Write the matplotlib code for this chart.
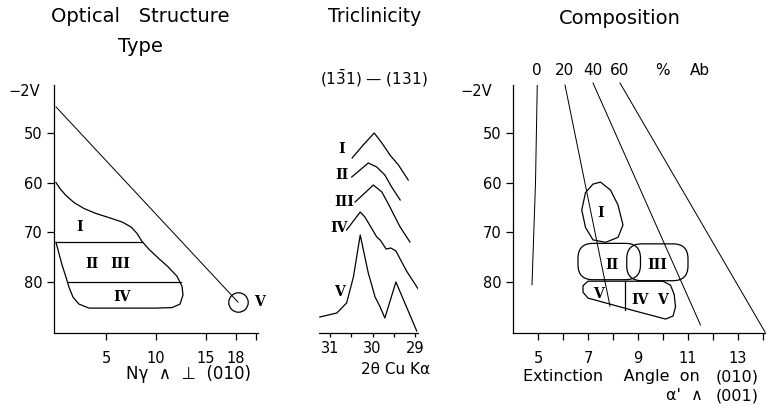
import numpy as np
import matplotlib.pyplot as plt
from matplotlib.patches import FancyBboxPatch, Polygon

plt.rcParams['font.family'] = ['DejaVu Sans']
plt.rcParams['axes.linewidth'] = 0.9

# ---- panel 1: optical structure type (Nγ ∧ ⊥(010) vs -2V) ----
opt_outline_x = [0, 0.4, 1.0, 1.8, 2.8, 4.0, 5.4, 6.6, 7.5, 8.1, 8.6, 9.3, 10.2, 11.2, 12.1, 12.6,
                 12.7, 12.4, 11.6, 10.0, 3.3, 2.3, 1.7, 1.3, 1.0, 0.6, 0.2, 0]
opt_outline_y = [60, 61.2, 62.6, 64.0, 65.2, 66.2, 67.1, 67.9, 68.9, 70.2, 71.8, 73.4, 75.1, 76.9, 78.8, 80.8,
                 82.6, 84.4, 85.1, 85.2, 85.2, 84.4, 83.0, 81.0, 79.0, 76.5, 73.5, 72]
opt_split_y = [72, 80]
opt_split_x0 = [0, 1.15]
opt_split_x1 = [8.6, 12.5]
opt_diag_x = [0, 18.2]
opt_diag_y = [44.8, 84]
opt_types = ['I', 'II', 'III', 'IV', 'V']
opt_type_x = [2.4, 3.6, 6.4, 6.6, 20.3]
opt_type_y = [69, 76.3, 76.3, 83, 84]

# ---- panel 2: triclinicity, (1-31)-(131) peaks ----
tri_x = {
    'I':   [30.48, 30.22, 29.96, 29.78, 29.59, 29.39, 29.16],
    'II':  [30.49, 30.10, 29.90, 29.71, 29.55, 29.35],
    'III': [30.41, 29.98, 29.78, 29.59, 29.52, 29.35, 29.12],
    'IV':  [30.61, 30.29, 30.18, 29.90, 29.82, 29.68, 29.57, 29.45, 29.20, 28.88],
    'V':   [31.24, 30.84, 30.61, 30.45, 30.29, 30.10, 29.94, 29.82, 29.71, 29.45, 29.20, 28.96],
}
tri_y = {
    'I':   [175, 188, 200, 190, 178, 168, 153],
    'II':  [156, 170, 166, 158, 146, 133],
    'III': [131, 148, 141, 126, 120, 106, 91],
    'IV':  [103, 121, 116, 96, 93, 84, 85, 82, 62, 41],
    'V':   [16, 20, 30, 56, 98, 60, 36, 26, 15, 51, 26, 2],
}
tri_label_x = [30.73, 30.71, 30.67, 30.80, 30.78]
tri_label_y = [184, 158, 131, 105, 41]

# ---- panel 3: composition (extinction angle vs -2V) ----
ab_pct = ['0', '20', '40', '60']
ab_line_x = [[4.97, 4.9, 4.76], [6.08, 7.88], [7.2, 11.5], [8.28, 14.08]]
ab_line_y = [[40.5, 60, 80.5], [40.4, 84.8], [40, 88.6], [40, 90]]
comp_I_x = [7.5, 7.9, 8.2, 8.4, 8.2, 7.7, 7.2, 6.9, 6.75, 6.9, 7.2]
comp_I_y = [59.9, 61.5, 64.5, 68.5, 71, 72, 71.5, 69, 65.5, 62, 60.3]
comp_boxes = [(6.6, 72.2, 9.1, 79.5), (8.55, 72.3, 11.0, 79.7)]  # II, III
comp_low_x = [7.0, 10.0, 10.3, 10.45, 10.5, 10.4, 10.1, 8.9, 7.3, 7.0, 6.8, 6.8]
comp_low_y = [79.8, 79.8, 80.6, 82.5, 85, 86.8, 87.4, 85.8, 83.6, 83.2, 82.0, 80.7]
comp_div_x = [8.47, 8.47]
comp_div_y = [79.8, 85.6]
comp_types = ['I', 'II', 'III', 'V', 'IV', 'V']
comp_type_x = [7.52, 7.96, 9.76, 7.4, 9.08, 9.96]
comp_type_y = [66.2, 76.6, 76.6, 82.4, 83.6, 83.6]

W, H = 770, 409
fig = plt.figure(figsize=(7.7, 4.09), dpi=100)


def box(l, t, r, b):
    return [l / W, 1 - b / H, (r - l) / W, (b - t) / H]


def ftext(x, y, s, **kw):
    fig.text(x / W, 1 - y / H, s, ha='center', va='center', **kw)


roman = dict(family='DejaVu Serif', fontweight='bold', fontsize=10, ha='center', va='center')
lw = 0.9

ax1 = fig.add_axes(box(54, 85, 258, 333))
ax2 = fig.add_axes(box(319, 85, 418, 333))
ax3 = fig.add_axes(box(513, 85, 765, 333))
for ax in (ax1, ax2, ax3):
    ax.spines['top'].set_visible(False)
    ax.spines['right'].set_visible(False)
    ax.tick_params(which='both', direction='out', length=5, width=0.9, labelsize=10.5)
ax2.spines['left'].set_visible(False)
ax2.set_yticks([])

# panel 1
ax1.set_xlim(-0.2, 20.2)
ax1.set_ylim(90.2, 40.4)
ax1.set_yticks([50, 60, 70, 80])
ax1.set_xticks([5, 10, 15, 18])
ax1.set_xticks([20], minor=True)
ax1.tick_params(axis='x', pad=8)
ax1.tick_params(axis='y', pad=3)
ax1.plot(opt_outline_x, opt_outline_y, color='k', lw=lw)
for y, x0, x1 in zip(opt_split_y, opt_split_x0, opt_split_x1):
    ax1.plot([x0, x1], [y, y], color='k', lw=lw)
ax1.plot(opt_diag_x, opt_diag_y, color='k', lw=lw * 0.8)
ax1.plot(opt_diag_x[-1], opt_diag_y[-1], 'o', ms=14, mfc='none', mec='k', mew=lw, clip_on=False)
for t, x, y in zip(opt_types, opt_type_x, opt_type_y):
    ax1.text(x, y, t, clip_on=False, **roman)
ax1.text(-1.6, 41.8, '−2V', ha='right', va='center', fontsize=10.5)

# panel 2
ax2.set_xlim(31.26, 28.93)
ax2.set_ylim(0, 248)
ax2.set_xticks([31, 30, 29])
ax2.set_xticks([30.5, 29.5], minor=True)
ax2.tick_params(which='both', length=3, pad=3)
for (k, xs), lx, ly in zip(tri_x.items(), tri_label_x, tri_label_y):
    ax2.plot(xs, tri_y[k], color='k', lw=lw)
    ax2.text(lx, ly, k, clip_on=False, **roman)

# panel 3
ax3.set_xlim(4, 14.08)
ax3.set_ylim(90.2, 40.4)
ax3.set_yticks([50, 60, 70, 80])
ax3.set_xticks([5, 7, 9, 11, 13])
ax3.set_xticks([6, 8, 10, 12, 14], minor=True)
ax3.tick_params(axis='x', pad=8)
ax3.tick_params(axis='y', pad=3)
for xs, ys, p in zip(ab_line_x, ab_line_y, ab_pct):
    ax3.plot(xs, ys, color='k', lw=lw * 0.8, clip_on=False)
    ax3.text(xs[0], 37.4, p, ha='center', va='center', fontsize=11, clip_on=False)
ax3.text(9.96, 37.4, '%', ha='center', va='center', fontsize=11)
ax3.text(11.48, 37.4, 'Ab', ha='center', va='center', fontsize=11)
ax3.text(3.15, 41.8, '−2V', ha='right', va='center', fontsize=10.5)
ax3.add_patch(Polygon(np.column_stack([comp_I_x, comp_I_y]), closed=True, fill=False, lw=lw))
for x0, y0, x1, y1 in comp_boxes:
    ax3.add_patch(FancyBboxPatch((x0, y0), x1 - x0, y1 - y0,
                                 boxstyle='round,pad=0,rounding_size=0.6',
                                 mutation_aspect=5, fill=False, lw=lw))
ax3.add_patch(Polygon(np.column_stack([comp_low_x, comp_low_y]), closed=True, fill=False, lw=lw))
ax3.plot(comp_div_x, comp_div_y, color='k', lw=lw)
for t, x, y in zip(comp_types, comp_type_x, comp_type_y):
    ax3.text(x, y, t, **roman)

# titles and axis captions
ftext(140, 16, 'Optical   Structure', fontsize=14)
ftext(140, 47, 'Type', fontsize=14)
ftext(375, 16, 'Triclinicity', fontsize=13.5)
ftext(374, 78, r'$(1\bar{3}1)$ — $(131)$', fontsize=11)
ftext(620, 19, 'Composition', fontsize=14)
ftext(188, 374, 'Nγ  ∧  ⊥  (010)', fontsize=12)
ftext(396, 369, '2θ Cu Kα', fontsize=11)
fig.text(523 / W, 1 - 377 / H, 'Extinction    Angle  on', ha='left', va='center', fontsize=11.5)
ftext(737, 377, '(010)', fontsize=11.5)
fig.text(703 / W, 1 - 396 / H, "α'  ∧", ha='right', va='center', fontsize=11.5)
ftext(737, 396, '(001)', fontsize=11.5)

fig.savefig('out.png', dpi=100)
